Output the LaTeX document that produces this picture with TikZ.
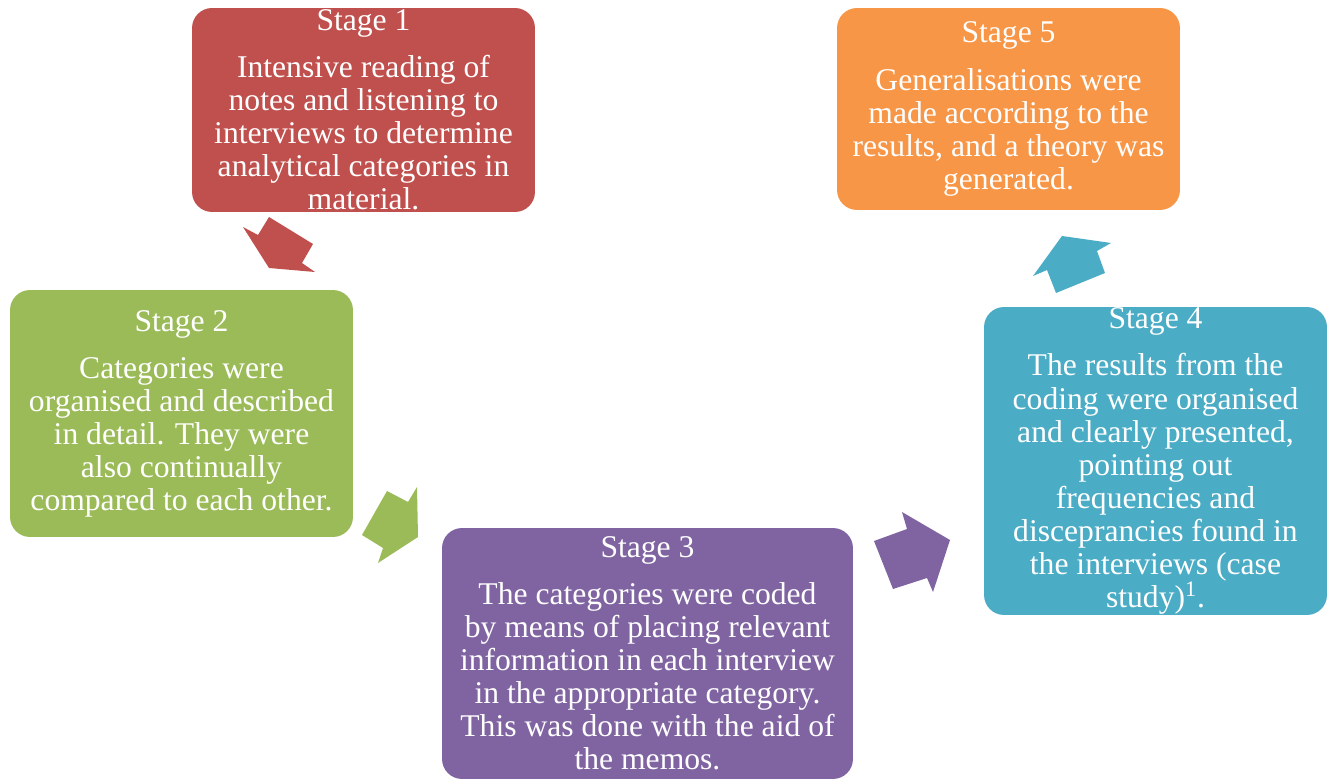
\documentclass[tikz,border=0pt]{standalone}
\usepackage{fontspec}
\setmainfont{Liberation Serif}
\definecolor{stagered}{HTML}{C0504D}
\definecolor{stagegreen}{HTML}{9BBB59}
\definecolor{stagepurple}{HTML}{8064A2}
\definecolor{stageteal}{HTML}{4BACC6}
\definecolor{stageorange}{HTML}{F79646}
\tikzset{
  stagebox/.style={rounded corners=0.4cm, text=white, align=center, inner sep=0pt,
    font=\fontsize{18}{18.8}\selectfont},
}

\begin{document}
\begin{tikzpicture}[x=0.02cm, y=-0.02cm]
			%%%%% START %%%%%
			\useasboundingbox (0, 0) rectangle (1332, 780);
			
			\node[stagebox, fill=stagered, minimum width=6.86cm, minimum height=4.08cm] (stage1) at (363.5, 110)
			{Stage 1\\[8pt] Intensive reading of\\ notes and listening to\\ interviews to determine\\ analytical categories in\\ material.};
			
			\node[stagebox, fill=stagegreen, minimum width=6.86cm, minimum height=4.94cm] (stage2) at (181.5, 413.5)
			{Stage 2\\[8pt] Categories were\\ organised and described\\ in detail. They were\\ also continually\\ compared to each other.};
			
			\node[stagebox, fill=stagepurple, minimum width=8.22cm, minimum height=5.02cm] (stage3) at (647.5, 653.5)
			{Stage 3\\[8pt] The categories were coded\\ by means of placing relevant\\ information in each interview\\ in the appropriate category.\\ This was done with the aid of\\ the memos.};
			
			\node[stagebox, fill=stageteal, minimum width=6.86cm, minimum height=6.16cm] (stage4) at (1155.5, 461)
			{Stage 4\\[8pt] The results from the\\ coding were organised\\ and clearly presented,\\ pointing out\\ frequencies and\\ disceprancies found in\\ the interviews (case\\ study)\textsuperscript{1}.};
			
			\node[stagebox, fill=stageorange, minimum width=6.86cm, minimum height=4.04cm] (stage5) at (1008.5, 109)
			{Stage 5\\[8pt] Generalisations were\\ made according to the\\ results, and a theory was\\ generated.};
			
			% block arrows between the stages
			\fill[stagered] (269, 217) -- (313, 244) -- (302, 263) -- (315, 272) -- (269, 268) -- (243, 227) -- (258, 235) -- cycle;
			\fill[stagegreen] (362, 535) -- (387, 491) -- (408, 502) -- (417, 487) -- (418, 537) -- (378, 563) -- (383, 548) -- cycle;
			\fill[stagepurple] (874, 541) -- (907, 529) -- (902, 512) -- (950, 540) -- (933, 592) -- (927, 578) -- (893, 589) -- cycle;
			\fill[stageteal] (1056, 293) -- (1047, 270) -- (1033, 276) -- (1062, 236) -- (1111, 243) -- (1097, 251) -- (1105, 273) -- cycle;
			
			%%%%% END %%%%%
\end{tikzpicture}
\end{document}
